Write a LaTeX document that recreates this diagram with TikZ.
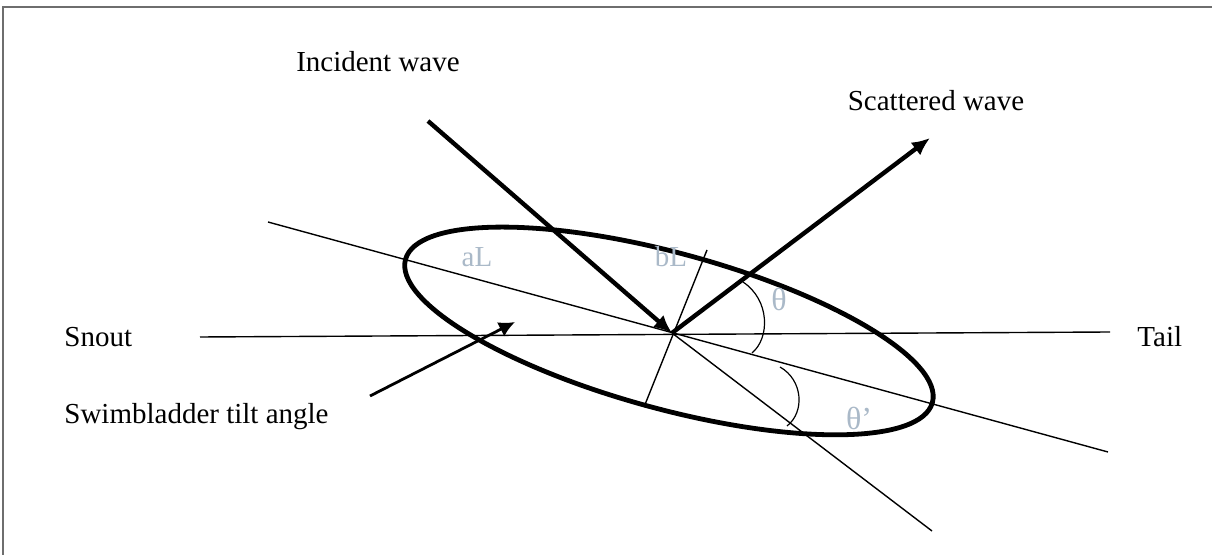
\documentclass[tikz,border=0pt]{standalone}
\usepackage{fontspec}
\setmainfont{Liberation Serif}
\usetikzlibrary{arrows.meta}
\definecolor{framegray}{RGB}{110,110,110}
\definecolor{lblgray}{RGB}{170,185,200}
\begin{document}
\begin{tikzpicture}[x=0.5pt,y=-0.5pt,
  txt/.style={inner sep=0pt,font=\fontsize{14.5}{17}\selectfont},
  lbl/.style={txt,text=lblgray},
  thin line/.style={line width=0.7pt},
  thick arrow/.style={line width=2.2pt,-{Latex[length=9pt,width=8pt]}},
  tilt arrow/.style={line width=1.4pt,-{Latex[length=8pt,width=8pt]}}]
\useasboundingbox (0,0) rectangle (1212,555);
% frame
\draw[framegray,line width=0.8pt] (3,555) -- (3,7) -- (1212,7);
% coordinates
\coordinate (c) at (672,333);
\coordinate (ec) at (669,331);
\coordinate (axL) at (268,222);
\coordinate (axR) at (1108,452);
\coordinate (hL) at (200,337);
\coordinate (hR) at (1110,332);
\coordinate (mT) at (707,250);
\coordinate (mB) at (644,407);
\coordinate (incS) at (428,121);
\coordinate (incE) at (932,531);
\coordinate (scE) at (930,138);
\coordinate (tiltS) at (370,396);
\coordinate (tiltE) at (515,322);
% thin lines
\draw[thin line] (hL) -- (hR);
\draw[thin line] (axL) -- (axR);
\draw[thin line] (mT) -- (mB);
\draw[thin line] (c) -- (incE);
% ellipse
\draw[line width=2.4pt,rotate around={-15.2:(ec)}] (ec) ellipse [x radius=273, y radius=78];
% arrows
\draw[thick arrow] (incS) -- (c);
\draw[thick arrow] (c) -- (scE);
\draw[tilt arrow] (tiltS) -- (tiltE);
% angle arcs
\coordinate (a1s) at (743,282);
\coordinate (a1e) at (752,353);
\draw[line width=0.6pt] (a1s) .. controls (770,300) and (770,338) .. (a1e);
\coordinate (a2s) at (780,367);
\coordinate (a2e) at (787,426);
\draw[line width=0.6pt] (a2s) .. controls (803,380) and (805,412) .. (a2e);
% texts
\node[txt] (incident) at (378,62) {Incident wave};
\node[txt] (scattered) at (936,101) {Scattered wave};
\node[txt,anchor=west] (snout) at (64,337) {Snout};
\node[txt,anchor=west] (tail) at (1137,337) {Tail};
\node[txt,anchor=west] (tilt) at (64,417) {Swimbladder tilt angle};
\node[lbl] (aL) at (477,257) {aL};
\node[lbl] (bL) at (671,257) {bL};
\node[lbl,font=\fontsize{16}{18}\selectfont] (theta) at (779,299) {θ};
\node[lbl,font=\fontsize{16}{18}\selectfont] (thetap) at (859,418) {θ’};
\end{tikzpicture}
\end{document}
